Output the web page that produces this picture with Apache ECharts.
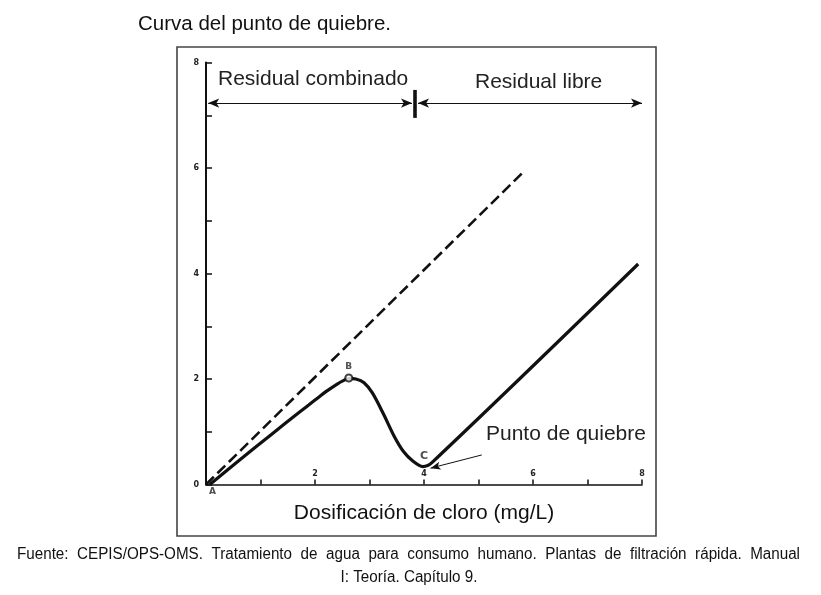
<!DOCTYPE html>
<html>
<head>
<meta charset="utf-8">
<script src="https://cdn.jsdelivr.net/npm/echarts@6/dist/echarts.min.js"></script>
<style>html,body{margin:0;padding:0;background:#fff;}#c{width:821px;height:595px;}</style>
</head>
<body>
<div id="c"></div>
<script>
// ---- data ----
const dashedLine = [[0, 0], [5.8, 5.9]];
const breakpointCurve = [
  [0.07, 0], [0.6, 0.45], [1.2, 0.95], [1.7, 1.36], [2.0, 1.6], [2.2, 1.76],
  [2.4, 1.9], [2.52, 1.97], [2.62, 2.01], [2.75, 2.0], [2.9, 1.93], [3.05, 1.74],
  [3.25, 1.35], [3.45, 0.92], [3.62, 0.63], [3.8, 0.44], [3.98, 0.34], [4.15, 0.42],
  [7.93, 4.18]
];
const pointB = [2.62, 2.02];
const pointC = [4.0, 0.34];
const pointA = [0.12, 0];
const xTickLabels = ['', '', '2', '', '4', '', '6', '', '8'];
const yTickLabels = ['0', '', '2', '', '4', '', '6', '', '8'];
const combinedRange = [0.04, 3.78];
const freeRange = [3.89, 8.0];
const rangeY = 7.23;
const dividerX = 3.83;
const dividerY = [6.95, 7.48];
const breakArrow = [[5.06, 0.56], [4.12, 0.31]];
const footerLine1 = 'Fuente: CEPIS/OPS-OMS. Tratamiento de agua para consumo humano. Plantas de filtración rápida. Manual';
const footerLine2 = 'I: Teoría. Capítulo 9.';

const chart = echarts.init(document.getElementById('c'), null, {renderer: 'canvas'});
const FONT = '"Liberation Sans", Arial, sans-serif';

// justified first footer line (words spread across the line width)
const FOOT_SIZE = 16, FOOT_SCALE = 0.95, FOOT_LEFT = 17, FOOT_RIGHT = 800;
const mctx = document.createElement('canvas').getContext('2d');
mctx.font = FOOT_SIZE + 'px "Liberation Sans"';
const words = footerLine1.split(' ');
const wW = words.map(w => mctx.measureText(w).width);
const totalUnscaled = (FOOT_RIGHT - FOOT_LEFT) / FOOT_SCALE;
const gap = (totalUnscaled - wW.reduce((a, b) => a + b, 0)) / (words.length - 1);
let cx = 0;
const wordEls = words.map((w, i) => {
  const el = {type: 'text', silent: true, x: cx, y: 0,
    style: {text: w, fontFamily: FONT, fontSize: FOOT_SIZE, fill: '#111', textVerticalAlign: 'middle'}};
  cx += wW[i] + gap;
  return el;
});

const option = {
  animation: false,
  backgroundColor: '#fff',
  title: {
    text: 'Curva del punto de quiebre.',
    left: 133, top: 9,
    textStyle: {fontFamily: FONT, fontSize: 20.5, fontWeight: 'normal', color: '#111'}
  },
  grid: {left: 206, right: 179, top: 62.5, bottom: 110.5, containLabel: false},
  xAxis: {
    type: 'value', min: 0, max: 8, interval: 1,
    name: 'Dosificación de cloro (mg/L)', nameLocation: 'middle', nameGap: 18,
    nameTextStyle: {fontFamily: FONT, fontSize: 21, color: '#111'},
    axisLine: {show: true, lineStyle: {color: '#111', width: 1.6}},
    axisTick: {show: true, inside: true, length: 5, lineStyle: {color: '#111', width: 1.5}},
    axisLabel: {inside: true, margin: 7, fontFamily: '"DejaVu Sans", sans-serif', fontSize: 8, fontWeight: 'bold', color: '#222',
      formatter: (v) => xTickLabels[Math.round(v)] || ''},
    splitLine: {show: false}
  },
  yAxis: {
    type: 'value', min: 0, max: 8, interval: 1,
    axisLine: {show: true, lineStyle: {color: '#111', width: 2}},
    axisTick: {show: true, inside: true, length: 6, lineStyle: {color: '#111', width: 1.5}},
    axisLabel: {margin: 7, fontFamily: '"DejaVu Sans", sans-serif', fontSize: 8, fontWeight: 'bold', color: '#222',
      formatter: (v) => yTickLabels[Math.round(v)] || ''},
    splitLine: {show: false}
  },
  series: [
    {
      type: 'line', data: dashedLine, symbol: 'none', silent: true,
      lineStyle: {color: '#111', width: 2.6, type: [11, 5]}
    },
    {
      type: 'line', data: breakpointCurve, symbol: 'none', smooth: 0.3, silent: true,
      lineStyle: {color: '#111', width: 3.2}
    },
    {
      type: 'scatter', silent: true, z: 10,
      data: [
        {value: pointB, symbol: 'emptyCircle', symbolSize: 7,
          itemStyle: {color: '#111', borderWidth: 1.2},
          label: {show: true, position: 'top', distance: 2, formatter: 'B'}},
        {value: pointC, symbolSize: 0,
          label: {show: true, position: 'top', distance: 5, formatter: 'C', fontSize: 11}},
        {value: pointA, symbolSize: 0,
          label: {show: true, position: 'bottom', distance: 3, formatter: 'A'}}
      ],
      label: {fontFamily: '"DejaVu Sans", sans-serif', fontSize: 9, fontWeight: 'bold', color: '#222'}
    },
    {
      type: 'line', data: [], silent: true,
      markLine: {
        silent: true, animation: false,
        symbol: ['arrow', 'arrow'], symbolSize: [7, 11],
        label: {show: false},
        lineStyle: {color: '#111', width: 1.2, type: 'solid'},
        data: [
          [{coord: [combinedRange[0], rangeY]}, {coord: [combinedRange[1], rangeY]}],
          [{coord: [freeRange[0], rangeY]}, {coord: [freeRange[1], rangeY]}],
          [{coord: [dividerX, dividerY[0]], symbol: 'none', lineStyle: {width: 3.6}},
           {coord: [dividerX, dividerY[1]], symbol: 'none'}],
          [{coord: breakArrow[0], symbol: 'none', lineStyle: {width: 1}},
           {coord: breakArrow[1], symbol: 'arrow', symbolSize: [6, 10]}]
        ]
      }
    }
  ],
  graphic: [
    {type: 'rect', silent: true, shape: {x: 177, y: 47, width: 479, height: 489},
      style: {fill: 'none', stroke: '#444', lineWidth: 1.6}},
    {type: 'text', silent: true, left: 218, top: 69,
      style: {text: 'Residual combinado', fontFamily: FONT, fontSize: 21, fill: '#222'}},
    {type: 'text', silent: true, left: 475, top: 72,
      style: {text: 'Residual libre', fontFamily: FONT, fontSize: 21, fill: '#222'}},
    {type: 'text', silent: true, left: 486, top: 424,
      style: {text: 'Punto de quiebre', fontFamily: FONT, fontSize: 21, fill: '#222'}},
    {type: 'group', silent: true, x: FOOT_LEFT, y: 555, scaleX: FOOT_SCALE, children: wordEls},
    {type: 'text', silent: true, x: 409, y: 578, scaleX: FOOT_SCALE,
      style: {text: footerLine2, fontFamily: FONT, fontSize: FOOT_SIZE, fill: '#111',
        textAlign: 'center', textVerticalAlign: 'middle'}}
  ]
};
chart.setOption(option);
</script>
</body>
</html>
